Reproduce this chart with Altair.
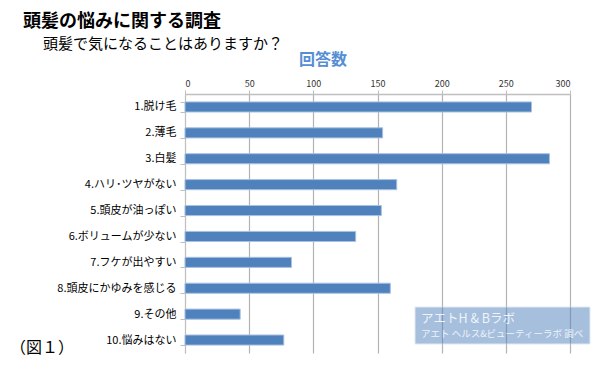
import altair as alt
import pandas as pd

# ---- data ----
categories = [
    "1.脱け毛",
    "2.薄毛",
    "3.白髪",
    "4.ハリ･ツヤがない",
    "5.頭皮が油っぽい",
    "6.ボリュームが少ない",
    "7.フケが出やすい",
    "8.頭皮にかゆみを感じる",
    "9.その他",
    "10.悩みはない",
]
counts = [270, 154, 284, 165, 153, 133, 83, 160, 43, 77]
x_ticks = [0, 50, 100, 150, 200, 250, 300]

title_text = "頭髪の悩みに関する調査"
subtitle_text = "頭髪で気になることはありますか？"
axis_title = "回答数"
figure_label = "（図１）"
credit_line1 = "アエトH & Bラボ"
credit_line2 = "アエト ヘルス&ビューティーラボ 調べ"

FONT = "Noto Sans CJK JP"
BAR = "#4F81BD"
GRID = "#b3b3b3"

df = pd.DataFrame({"item": categories, "count": counts})
one = pd.DataFrame({"k": [0]})

bars = alt.Chart(df).mark_bar(color=BAR, stroke="#a9c1e0", strokeWidth=1).encode(
    x=alt.X(
        "count:Q",
        scale=alt.Scale(domain=[0, 300], nice=False),
        axis=alt.Axis(
            orient="top", values=x_ticks, title=None, grid=True,
            gridColor=GRID, gridWidth=1.2, domainColor="#bfbfbf", domainWidth=1.5,
            tickColor="#bfbfbf", tickSize=4, labelFontSize=9, labelColor="#333333",
            labelFont=FONT, labelPadding=2,
        ),
    ),
    y=alt.Y(
        "item:N", sort=categories,
        scale=alt.Scale(paddingInner=0.61, paddingOuter=0.305),
        axis=alt.Axis(
            title=None, tickBand="extent", tickSize=5, labelPadding=4,
            labelFontSize=11, labelFont=FONT, labelColor="#000000",
            domainColor="#bfbfbf", tickColor="#bfbfbf", grid=False, labelLimit=300,
        ),
    ),
)

credit_box = alt.Chart(one).mark_rect(fill=BAR, opacity=0.5, stroke="#c5d5ea", strokeWidth=1).encode(
    x=alt.value(230), x2=alt.value(405), y=alt.value(213), y2=alt.value(250)
)

def label(text, x, y, size, weight="normal", color="#000000", align="left"):
    return alt.Chart(one).mark_text(
        font=FONT, fontSize=size, fontWeight=weight, color=color,
        align=align, baseline="middle",
    ).encode(x=alt.value(x), y=alt.value(y), text=alt.value(text))

layers = [
    bars,
    credit_box,
    label(title_text, -162, -72, 18, "bold"),
    label(subtitle_text, -142, -50, 15),
    label(axis_title, 138, -34, 16, "bold", "#558ED5", "center"),
    label(figure_label, -175, 254, 16),
    label(credit_line1, 236, 225, 12.5, color="#eef3fa"),
    label(credit_line2, 236, 240, 9.5, color="#eef3fa"),
]

chart = alt.layer(*layers).properties(
    width=385,
    height=259,
    autosize=alt.AutoSizeParams(type="none"),
    padding={"left": 177, "top": 86, "right": 22, "bottom": 23},
).configure_view(stroke=None)

chart.save("out.html", embed_options={"renderer": "svg", "actions": False})
